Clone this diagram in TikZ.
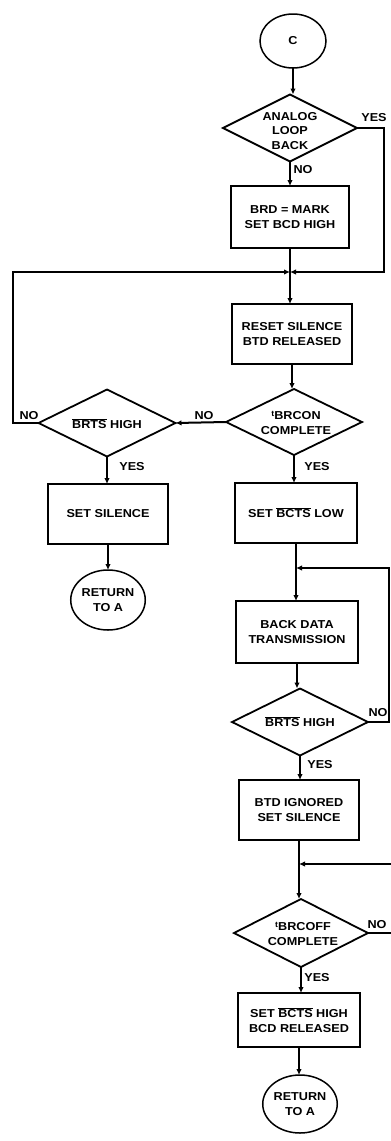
\documentclass[tikz,border=0pt]{standalone}
\usepackage{fontspec}
\setmainfont{Liberation Sans}[FakeStretch=1.1]
\usetikzlibrary{shapes.geometric,arrows.meta}
\newcommand\ovl[1]{$\overline{\hbox{#1}}$}
\begin{document}
\begin{tikzpicture}[x=1pt,y=-1pt,
 every node/.style={font=\fontsize{11.5}{14.5}\selectfont\bfseries, align=center},
 box/.style={draw, line width=2pt, inner sep=0pt, outer sep=0pt},
 dia/.style={draw, diamond, line width=1.8pt, inner sep=0pt, outer sep=0pt},
 term/.style={draw, ellipse, line width=1.5pt, inner sep=0pt, outer sep=0pt},
 flow/.style={line width=2pt, -{Latex[length=6pt,width=5.5pt]}},
 lab/.style={inner sep=1pt}]
\useasboundingbox (0,0) rectangle (391,1141);
% nodes
\node[term, minimum width=66pt, minimum height=54pt] (c) at (293,41) {C};
\node[dia, minimum width=134pt, minimum height=67pt] (alb) at (290,128) {};
\node (albt) at (290,131) {ANALOG\\LOOP\\BACK};
\node[box, minimum width=118pt, minimum height=62pt] (brd) at (290,217) {BRD = MARK\\SET BCD HIGH};
\coordinate (j1) at (290,272);
\coordinate (jr) at (384,272);
\node[box, minimum width=120pt, minimum height=60pt] (rst) at (292,334) {RESET SILENCE\\BTD RELEASED};
\node[dia, minimum width=136pt, minimum height=66pt] (brcon) at (294,422) {};
\node (brcont) at (296,423) {\raisebox{3pt}{\footnotesize t}BRCON\\COMPLETE};
\node[dia, minimum width=137pt, minimum height=67pt] (brts1) at (107,423) {};
\node (brts1t) at (107,424) {\ovl{BRTS} HIGH};
\coordinate (jl) at (13,423);
\node[box, minimum width=120pt, minimum height=60pt] (ss) at (108,514) {SET SILENCE};
\node[term, minimum width=64pt, minimum height=60pt] (ret1) at (108,600) {RETURN\\TO A};
\node[box, minimum width=122pt, minimum height=60pt] (bctsl) at (296,513) {SET \ovl{BCTS} LOW};
\coordinate (j2) at (296,568);
\coordinate (j2r) at (389,568);
\node[box, minimum width=122pt, minimum height=62pt] (bdt) at (297,632) {BACK DATA\\TRANSMISSION};
\node[dia, minimum width=136pt, minimum height=67pt] (brts2) at (300,722) {};
\node (brts2t) at (300,722) {\ovl{BRTS} HIGH};
\node[box, minimum width=120pt, minimum height=60pt] (btdi) at (299,810) {BTD IGNORED\\SET SILENCE};
\coordinate (j3) at (299,864);
\coordinate (j3r) at (394,864);
\node[dia, minimum width=134pt, minimum height=68pt] (brcoff) at (301,933) {};
\node (brcofft) at (303,934) {\raisebox{3pt}{\footnotesize t}BRCOFF\\COMPLETE};
\node[box, minimum width=122pt, minimum height=54pt] (sbh) at (299,1020) {SET \ovl{BCTS} HIGH\\BCD RELEASED};
\node[term, minimum width=64pt, minimum height=58pt] (ret2) at (300,1104) {RETURN\\TO A};
% connectors
\draw[flow] (c.south) -- (c.south |- alb.north);
\draw[flow] (alb.south) -- (alb.south |- brd.north);
\draw[flow] (alb.east) -| (jr) -- (j1);
\draw[flow] (brd.south) -- (brd.south |- rst.north);
\draw[flow] (rst.south) -- (rst.south |- brcon.north);
\draw[flow] (brcon.west) -- (brts1.east);
\draw[flow] (brts1.west) -- (jl) |- (j1);
\draw[flow] (brcon.south) -- (brcon.south |- bctsl.north);
\draw[flow] (brts1.south) -- (brts1.south |- ss.north);
\draw[flow] (ss.south) -- (ss.south |- ret1.north);
\draw[flow] (bctsl.south) -- (bctsl.south |- bdt.north);
\draw[flow] (brts2.east) -| (j2r) -- (j2);
\draw[flow] (bdt.south) -- (bdt.south |- brts2.north);
\draw[flow] (brts2.south) -- (brts2.south |- btdi.north);
\draw[flow] (btdi.south) -- (btdi.south |- brcoff.north);
\draw[flow] (brcoff.east) -| (j3r) -- (j3);
\draw[flow] (brcoff.south) -- (brcoff.south |- sbh.north);
\draw[flow] (sbh.south) -- (sbh.south |- ret2.north);
% labels
\node[lab] (l1) at (374,118) {YES};
\node[lab] (l2) at (303,170) {NO};
\node[lab] (l3) at (29,416) {NO};
\node[lab] (l4) at (204,416) {NO};
\node[lab] (l5) at (132,467) {YES};
\node[lab] (l6) at (317,467) {YES};
\node[lab] (l7) at (378,713) {NO};
\node[lab] (l8) at (320,765) {YES};
\node[lab] (l9) at (377,925) {NO};
\node[lab] (l10) at (317,978) {YES};
\end{tikzpicture}
\end{document}
